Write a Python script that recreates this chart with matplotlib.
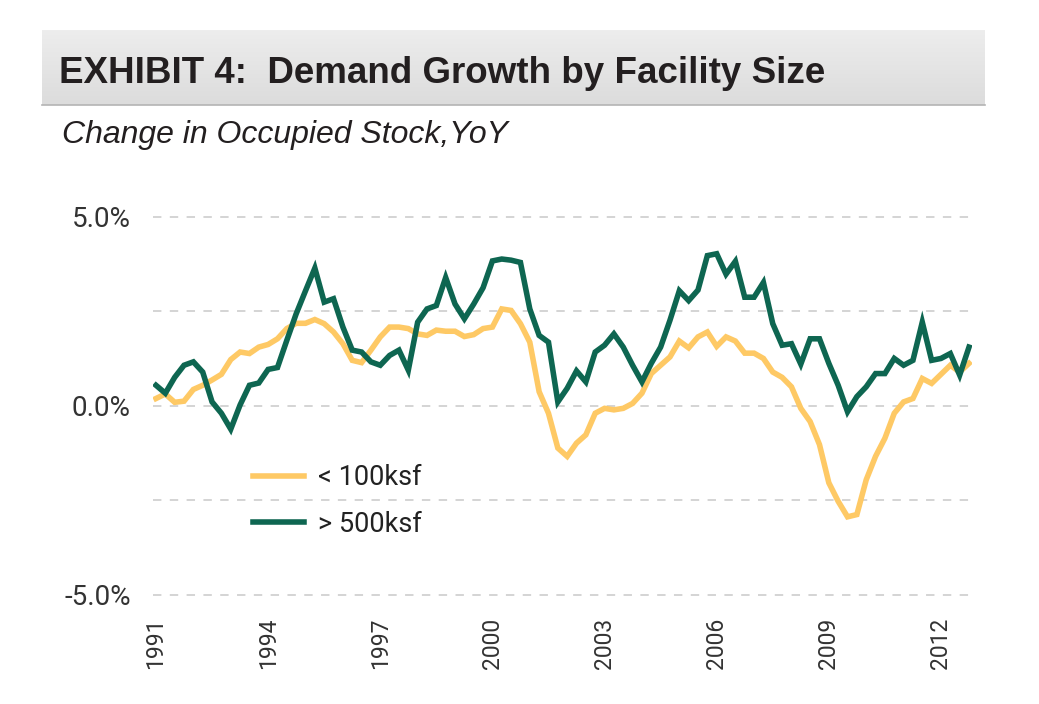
import numpy as np
import matplotlib
matplotlib.use("Agg")
import matplotlib.pyplot as plt
from matplotlib import font_manager
from matplotlib.lines import Line2D

W, H = 1039, 704

# quarterly YoY change in occupied stock (%), 1991Q1 .. 2012Q4
small = [0.19, 0.31, 0.09, 0.12, 0.43, 0.54, 0.68, 0.83, 1.22, 1.42, 1.38, 1.55,
         1.62, 1.77, 2.04, 2.18, 2.18, 2.28, 2.17, 1.95, 1.64, 1.20, 1.14, 1.47,
         1.82, 2.08, 2.08, 2.04, 1.90, 1.86, 2.00, 1.97, 1.97, 1.83, 1.88, 2.04,
         2.08, 2.56, 2.52, 2.17, 1.68, 0.37, -0.20, -1.12, -1.34, -0.99, -0.77, -0.20,
         -0.07, -0.11, -0.07, 0.06, 0.33, 0.85, 1.07, 1.29, 1.71, 1.53, 1.82, 1.95,
         1.57, 1.82, 1.71, 1.39, 1.39, 1.25, 0.89, 0.75, 0.50, -0.07, -0.42, -1.03,
         -2.04, -2.53, -2.94, -2.88, -1.96, -1.34, -0.86, -0.20, 0.10, 0.19, 0.72, 0.59,
         0.83, 1.07, 0.89, 1.12]
large = [0.54, 0.33, 0.75, 1.07, 1.16, 0.89, 0.10, -0.20, -0.62, 0.02, 0.54, 0.60,
         0.96, 1.01, 1.73, 2.43, 3.04, 3.64, 2.74, 2.83, 2.08, 1.47, 1.42, 1.16,
         1.07, 1.33, 1.47, 0.94, 2.21, 2.56, 2.65, 3.39, 2.69, 2.30, 2.69, 3.12,
         3.83, 3.88, 3.85, 3.79, 2.56, 1.86, 1.68, 0.10, 0.46, 0.92, 0.63, 1.42,
         1.60, 1.90, 1.55, 1.07, 0.63, 1.12, 1.55, 2.26, 3.04, 2.78, 3.06, 3.97,
         4.02, 3.48, 3.82, 2.87, 2.87, 3.26, 2.17, 1.60, 1.64, 1.10, 1.77, 1.77,
         1.12, 0.54, -0.16, 0.24, 0.50, 0.85, 0.85, 1.25, 1.07, 1.20, 2.21, 1.20,
         1.25, 1.38, 0.81, 1.55]
years = ["1991", "1994", "1997", "2000", "2003", "2006", "2009", "2012"]
labels = ["< 100ksf", "> 500ksf"]
grid_vals = [-5.0, -2.5, 0.0, 2.5, 5.0]
ytick_vals = [-5.0, 0.0, 5.0]

ORANGE = "#FEC965"
GREEN = "#0E6651"


def pick(*names):
    for n in names:
        try:
            font_manager.findfont(font_manager.FontProperties(family=n),
                                  fallback_to_default=False)
            return n
        except Exception:
            pass
    return "DejaVu Sans"


SANS = pick("Liberation Sans", "Arial", "DejaVu Sans")
NARROW = pick("Liberation Sans Narrow", "Roboto", "DejaVu Sans")
ROBOTO = pick("Roboto", "Liberation Sans", "DejaVu Sans")

fig = plt.figure(figsize=(W / 100, H / 100), dpi=100)

# title band with soft gradient
tb = fig.add_axes([42 / W, 1 - 105 / H, (985 - 42) / W, 75 / H])
grad = np.linspace(0, 1, 64).reshape(-1, 1)
tb.imshow(grad, aspect="auto", cmap=matplotlib.colors.LinearSegmentedColormap.from_list(
    "g", ["#ededed", "#dcdcdc"]), extent=[0, 1, 1, 0])
tb.axis("off")
fig.add_artist(Line2D([42 / W, 985 / W], [1 - 105 / H] * 2, color="#b4b4b4", lw=1.2))
fig.text(59 / W, 1 - 83 / H, "EXHIBIT 4:  Demand Growth by Facility Size",
         family=SANS, weight="bold", fontsize=26.5, color="#231f20", va="baseline")
fig.text(62 / W, 1 - 143 / H, "Change in Occupied Stock,YoY",
         family=SANS, style="italic", fontsize=23, color="#231f20", va="baseline")

# plot area
x = np.arange(len(small))
ax = fig.add_axes([153 / W, 1 - 613.6 / H, (972 - 153) / W, (613.6 - 197.8) / H])
for g in grid_vals:
    ax.axhline(g, color="#c9c9c9", lw=1.1, dashes=(5.5, 5.5), zorder=1)
ax.plot(x, small, color=ORANGE, lw=4.0, label=labels[0], zorder=2,
        solid_joinstyle="miter")
ax.plot(x, large, color=GREEN, lw=4.0, label=labels[1], zorder=3,
        solid_joinstyle="miter")
ax.set_xlim(-0.32, len(small) - 1 + 0.32)
ax.set_ylim(-5.5, 5.5)
ax.set_yticks(ytick_vals)
ax.set_yticklabels([f"{v:.1f}%" for v in ytick_vals], family=ROBOTO,
                   fontsize=20, color="#333333")
ax.set_xticks(np.arange(0, len(small), 12))
ax.set_xticklabels(years, rotation=90, family=NARROW, fontsize=16.5, color="#333333")
ax.tick_params(axis="y", length=0, pad=16)
ax.tick_params(axis="x", length=0, pad=3)
for s in ax.spines.values():
    s.set_visible(False)

ax.legend(loc="upper left", bbox_to_anchor=(253 / W, 1 - 464 / H),
          bbox_transform=fig.transFigure, frameon=False, borderpad=0,
          borderaxespad=0, handlelength=1.9, handletextpad=0.5,
          labelspacing=0.72, prop={"family": ROBOTO, "size": 19.5})
for t in ax.get_legend().get_texts():
    t.set_color("#222222")

fig.savefig("out.png", dpi=100)
